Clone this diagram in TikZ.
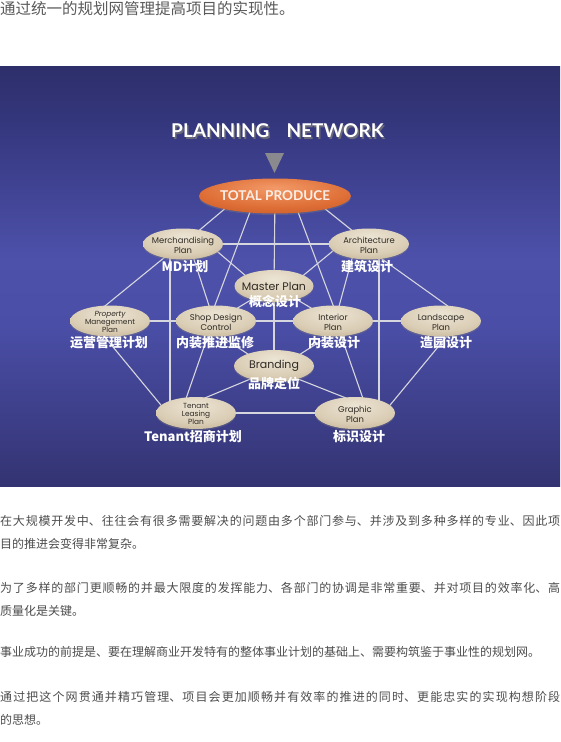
\documentclass[tikz,border=0pt]{standalone}
\usepackage{fontspec}
\setmainfont{Poppins}
\newfontfamily\cjk{Noto Sans CJK SC}
\newfontfamily\lato{Lato}
\usetikzlibrary{shapes.geometric,calc,shadows,backgrounds}
\XeTeXlinebreaklocale "zh"
\XeTeXlinebreakskip=0pt plus 3pt
\definecolor{pn1}{HTML}{14142C}
\definecolor{pn2}{HTML}{22224A}
\definecolor{pn3}{HTML}{333372}
\definecolor{pn4}{HTML}{4A4EA6}
\definecolor{pn5}{HTML}{4D51AA}
\definecolor{pn6}{HTML}{35377E}
\definecolor{pn7}{HTML}{22224E}
\definecolor{pn8}{HTML}{12121F}
\definecolor{b1}{HTML}{ECE4D4}
\definecolor{b2}{HTML}{DACDB5}
\definecolor{b3}{HTML}{BCAB8B}
\definecolor{b4}{HTML}{9A896C}
\definecolor{o1}{HTML}{F29A68}
\definecolor{o2}{HTML}{DE6E36}
\definecolor{o3}{HTML}{C65724}
\definecolor{o4}{HTML}{A0411A}
\definecolor{netc}{HTML}{D6D6DE}
\definecolor{etxc}{HTML}{2F2A24}
\definecolor{bodyc}{HTML}{4D4D4D}
\definecolor{headc}{HTML}{5A5A5A}
\definecolor{trig}{HTML}{8A8A8E}
\definecolor{tshadow}{HTML}{6A6A78}
\definecolor{tpt}{HTML}{FBEEE6}
\pgfdeclareverticalshading{panelshade}{100bp}{color(0bp)=(pn1); color(11bp)=(pn2); color(25bp)=(pn3); color(44bp)=(pn4); color(52bp)=(pn5); color(68bp)=(pn6); color(85bp)=(pn7); color(100bp)=(pn8)}
\pgfdeclareradialshading{beigeball}{\pgfpoint{0bp}{12bp}}{color(0bp)=(b1); color(25bp)=(b2); color(42bp)=(b3); color(50bp)=(b4); color(100bp)=(b4)}
\pgfdeclareradialshading{orangeball}{\pgfpoint{0bp}{12bp}}{color(0bp)=(o1); color(25bp)=(o2); color(42bp)=(o3); color(50bp)=(o4); color(100bp)=(o4)}
\begin{document}
\begin{tikzpicture}[x=1pt,y=-1pt,
  ell/.style={shape=ellipse, minimum width=80pt, minimum height=31pt, inner sep=0pt,
    shade, shading=beigeball, drop shadow={opacity=0.35, shadow xshift=0pt, shadow yshift=-1.5pt}},
  etx/.style={font=\fontsize{8.4}{9.4}\selectfont, text=etxc, inner sep=0pt, align=center, yshift=-1.5pt},
  etxs/.style={font=\fontsize{7.4}{8.4}\selectfont, text=etxc, inner sep=0pt, align=center, yshift=-1pt},
  etxb/.style={font=\fontsize{11}{12}\selectfont, text=etxc, inner sep=0pt, align=center},
  lbl/.style={font=\cjk\bfseries\fontsize{13}{15}\selectfont, text=white, inner sep=0pt},
  net/.style={draw=netc, line width=1.1pt},
  body/.style={font=\cjk\fontsize{12}{22.5}\selectfont, text=bodyc, inner sep=0pt, text width=560pt, align=justify, anchor=base west}]
\useasboundingbox (0,0) rectangle (560,742);
\begin{scope}[on background layer]
\fill[white] (0,0) rectangle (560,742);
\shade[shading=panelshade] (0,66) rectangle (560,486);
\end{scope}
% heading
\node[anchor=base west, font=\cjk\fontsize{15.5}{18}\selectfont, text=headc, inner sep=0pt] (head) at (0,14.5) {通过统一的规划网管理提高项目的实现性。};
% title
\node[font=\lato\bfseries\fontsize{19}{20}\selectfont, text=tshadow, inner sep=0pt] (titles) at (279,132.5) {PLANNING\hspace{0.9em}NETWORK};
\node[font=\lato\bfseries\fontsize{19}{20}\selectfont, text=white, inner sep=0pt] (title) at (277.5,131) {PLANNING\hspace{0.9em}NETWORK};
\fill[trig] (265,153) -- (284,153) -- (274.5,173) -- cycle;
% ellipses
\node[ell, minimum width=152pt, minimum height=35pt, shading=orangeball,
  label={[font=\lato\bfseries\fontsize{13.5}{14}\selectfont, text=tpt, inner sep=0pt]center:TOTAL PRODUCE}] (tp) at (275,196) {};
\node[ell, label={[etx]center:{Merchandising\\Plan}}] (md) at (183,244) {};
\node[ell, label={[etx]center:{Architecture\\Plan}}] (ar) at (369,244) {};
\node[ell, minimum width=79pt, minimum height=32pt, label={[etxb]center:{Master Plan}}] (mp) at (274,286) {};
\node[ell, label={[etxs]center:{\itshape Property\\Manegement\\Plan}}] (pm) at (110,321) {};
\node[ell, label={[etx]center:{Shop Design\\Control}}] (sd) at (216,321) {};
\node[ell, label={[etx]center:{Interior\\Plan}}] (ip) at (333,321) {};
\node[ell, label={[etx]center:{Landscape\\Plan}}] (ls) at (441,321) {};
\node[ell, minimum height=32pt, label={[etxb]center:{Branding}}] (br) at (274,366) {};
\node[ell, minimum height=32pt, label={[etxs]center:{Tenant\\Leasing\\Plan}}] (tl) at (196,413) {};
\node[ell, minimum height=32pt, label={[etx]center:{Graphic\\Plan}}] (gp) at (355,413) {};
% Chinese labels
\node[lbl] (mdl) at (185,267) {MD计划};
\node[lbl] (arl) at (367,267) {建筑设计};
\node[lbl] (mpl) at (275,301) {概念设计};
\node[lbl] (pml) at (109,343) {运营管理计划};
\node[lbl] (sdl) at (215,343) {内装推进监修};
\node[lbl] (ipl) at (334,343) {内装设计};
\node[lbl] (lsl) at (446,343) {造园设计};
\node[lbl] (brl) at (274,383) {品牌定位};
\node[lbl] (tll) at (193,437) {Tenant招商计划};
\node[lbl] (gpl) at (359,437) {标识设计};
% connectors
\begin{scope}[on background layer]
\draw[net] ($(tp)+(-35,0)$) -- (md.center);
\draw[net] ($(tp)+(-19,0)$) -- ($(sd)+(-7,0)$);
\draw[net] (tp.center) -- (mp.center);
\draw[net] (mp.center) -- (br.center);
\draw[net] ($(tp)+(17,0)$) -- ($(ip)+(6,0)$);
\draw[net] ($(tp)+(34,0)$) -- (ar.center);
\draw[net] (md.center) -- (ar.center);
\draw[net] ($(md)+(22,-3)$) -- ($(mp)+(-14,2)$);
\draw[net] ($(md)+(6,0)$) -- ($(sd)+(-2,0)$);
\draw[net] ($(md)+(-18,13)$) -- ($(pm)+(-10,-11)$);
\draw[net] ($(md)+(-13,0)$) -- ($(tl)+(-26,0)$);
\draw[net] ($(ar)+(-24,-3)$) -- ($(mp)+(14,2)$);
\draw[net] ($(ar)+(-13,0)$) -- ($(ip)+(2,0)$);
\draw[net] ($(ar)+(6,10)$) -- ($(ls)+(11,-12)$);
\draw[net] ($(ar)+(10,0)$) -- ($(gp)+(24,0)$);
\draw[net] (pm.center) -- (sd.center);
\draw[net] (sd.center) -- (ip.center);
\draw[net] (ip.center) -- (ls.center);
\draw[net] ($(pm)+(-11,9)$) -- ($(tl)+(-31,-3)$);
\draw[net] (sd.center) -- (mp.center);
\draw[net] (ip.center) -- (mp.center);
\draw[net] ($(sd)+(6,16)$) -- ($(br)+(-14,-4)$);
\draw[net] ($(ip)+(-6,16)$) -- ($(br)+(14,-4)$);
\draw[net] ($(sd)+(-3,0)$) -- ($(tl)+(-15,0)$);
\draw[net] ($(ip)+(3,0)$) -- ($(gp)+(13,0)$);
\draw[net] ($(br)+(-14,9)$) -- ($(tl)+(4,-13)$);
\draw[net] ($(br)+(14,9)$) -- ($(gp)+(-4,-13)$);
\draw[net] (tl.center) -- (gp.center);
\draw[net] ($(ls)+(11,9)$) -- ($(gp)+(31,-3)$);
\end{scope}
% body text
\node[body] (p1) at (0,525.5) {在大规模开发中、往往会有很多需要解决的问题由多个部门参与、并涉及到多种多样的专业、因此项\linebreak 目的推进会变得非常复杂。};
\node[body] (p2) at (0,592.5) {为了多样的部门更顺畅的并最大限度的发挥能力、各部门的协调是非常重要、并对项目的效率化、高\linebreak 质量化是关键。};
\node[body] (p3) at (0,656.5) {事业成功的前提是、要在理解商业开发特有的整体事业计划的基础上、需要构筑鉴于事业性的规划网。};
\node[body] (p4) at (0,701.5) {通过把这个网贯通并精巧管理、项目会更加顺畅并有效率的推进的同时、更能忠实的实现构想阶段\linebreak 的思想。};
\end{tikzpicture}
\end{document}
